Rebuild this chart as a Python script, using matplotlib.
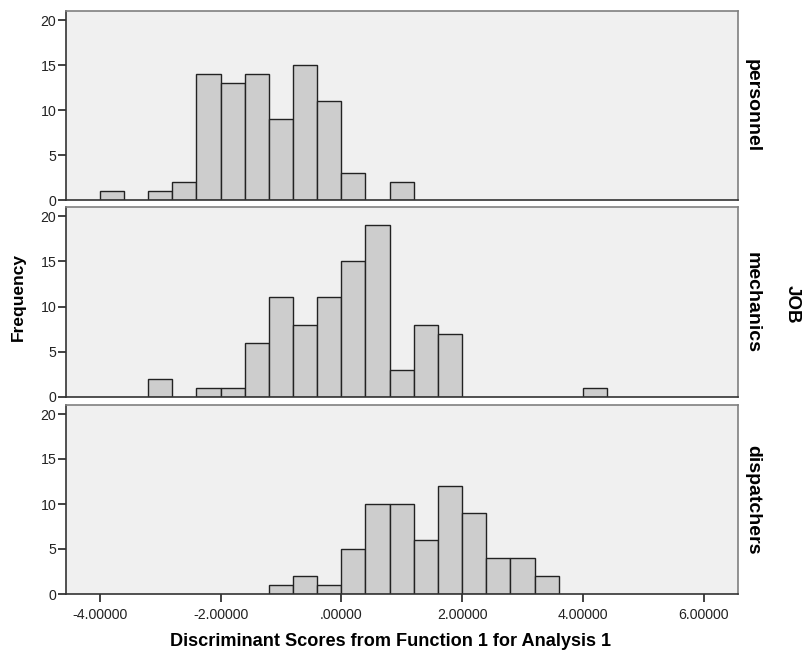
import numpy as np
import matplotlib
matplotlib.use("Agg")
import matplotlib.pyplot as plt

plt.rcParams['font.family'] = ['Liberation Sans', 'DejaVu Sans']

groups = ["personnel", "mechanics", "dispatchers"]
bin_width = 0.4
# left edges of bins and counts for each group
personnel_edges = [-4.0, -3.2, -2.8, -2.4, -2.0, -1.6, -1.2, -0.8, -0.4, 0.0, 0.8]
personnel_counts = [1, 1, 2, 14, 13, 14, 9, 15, 11, 3, 2]
mechanics_edges = [-3.2, -2.4, -2.0, -1.6, -1.2, -0.8, -0.4, 0.0, 0.4, 0.8, 1.2, 1.6, 4.0]
mechanics_counts = [2, 1, 1, 6, 11, 8, 11, 15, 19, 3, 8, 7, 1]
dispatchers_edges = [-1.2, -0.8, -0.4, 0.0, 0.4, 0.8, 1.2, 1.6, 2.0, 2.4, 2.8, 3.2]
dispatchers_counts = [1, 2, 1, 5, 10, 10, 6, 12, 9, 4, 4, 2]

xticks = [-4, -2, 0, 2, 4, 6]
xticklabels = ["-4.00000", "-2.00000", ".00000", "2.00000", "4.00000", "6.00000"]
yticks = [0, 5, 10, 15, 20]

data = [(personnel_edges, personnel_counts),
        (mechanics_edges, mechanics_counts),
        (dispatchers_edges, dispatchers_counts)]

W, H = 804, 655
fig = plt.figure(figsize=(W / 100, H / 100), dpi=100)

panels = [(11, 200), (207, 397), (405, 594)]
left, right = 66, 738
for i, ((top, bot), name, (edges, counts)) in enumerate(zip(panels, groups, data)):
    ax = fig.add_axes([left / W, 1 - bot / H, (right - left) / W, (bot - top) / H])
    ax.set_facecolor('#F0F0F0')
    ax.bar(edges, counts, width=bin_width, align='edge', color='#CDCDCD',
           edgecolor='#222222', linewidth=1.0)
    ax.set_xlim(-4.56, 6.57)
    ax.set_ylim(0, 21)
    ax.set_yticks(yticks)
    ax.tick_params(axis='y', length=6, width=1.2, labelsize=10.2, pad=1, colors='#222222')
    for s in ['left', 'bottom']:
        ax.spines[s].set_color('#333333')
        ax.spines[s].set_linewidth(1.2)
    for s in ['top', 'right']:
        ax.spines[s].set_color('#808080')
        ax.spines[s].set_linewidth(1.2)
    if i == 2:
        ax.set_xticks(xticks)
        ax.set_xticklabels(xticklabels)
        ax.tick_params(axis='x', length=6, width=1.2, labelsize=10.2, pad=4, colors='#222222')
    else:
        ax.set_xticks([])
    ax.text(1.009, 0.5, name, transform=ax.transAxes, rotation=-90,
            ha='left', va='center', fontsize=14, fontweight='bold')

fig.text(391 / W, 1 - 642 / H, "Discriminant Scores from Function 1 for Analysis 1",
         ha='center', va='center', fontsize=13.1, fontweight='bold')
fig.text(18 / W, 1 - 297 / H, "Frequency", rotation=90, ha='center', va='center',
         fontsize=12.5, fontweight='bold')
fig.text(792 / W, 1 - 304 / H, "JOB", rotation=-90, ha='center', va='center',
         fontsize=13.5, fontweight='bold')

fig.savefig("out.png", dpi=100)
